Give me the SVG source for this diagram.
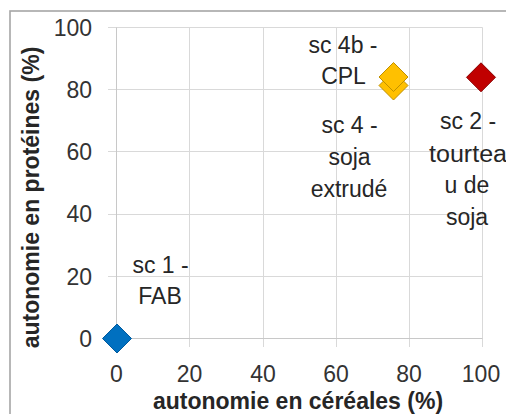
<svg xmlns="http://www.w3.org/2000/svg" width="506" height="414" viewBox="0 0 506 414">
  <style>
    .grid { stroke: #d9d9d9; stroke-width: 1; fill: none; }
    .axis { stroke: #c8c8c8; stroke-width: 1; fill: none; }
    .tick { font-family: "Liberation Sans", Arial, sans-serif; font-size: 23px; fill: #333333; }
    .title { font-family: "Liberation Sans", Arial, sans-serif; font-size: 23px; font-weight: bold; fill: #262626; text-anchor: middle; }
    .lbl { font-family: "Liberation Sans", Arial, sans-serif; font-size: 23px; fill: #262626; text-anchor: middle; }
  </style>
  <defs>
    <path id="dia" d="M0,-14.5 L14.5,0 L0,14.5 L-14.5,0 Z"/>
  </defs>
  <rect x="0" y="0" width="506" height="414" fill="#ffffff"/>
  <rect x="10" y="11" width="600" height="500" fill="none" stroke="#a6a6a6" stroke-width="1.6"/>

  <g id="grid">
    <path class="grid" d="M108,27.5H482.5 M108,89.5H482.5 M108,151.5H482.5 M108,214.5H482.5 M108,276.5H482.5"/>
    <path class="grid" d="M189.5,27.5V347 M263.5,27.5V347 M336.5,27.5V347 M409.5,27.5V347 M482.5,27.5V347"/>
  </g>
  <g id="axes">
    <path class="axis" d="M116.5,27.5V347 M108,338.5H482.5"/>
    <g class="tick" text-anchor="end">
      <text x="92" y="35.5">100</text>
      <text x="92" y="97.5">80</text>
      <text x="92" y="159.5">60</text>
      <text x="92" y="222">40</text>
      <text x="92" y="284.5">20</text>
      <text x="92" y="347">0</text>
    </g>
    <g class="tick" text-anchor="middle">
      <text x="116.5" y="381.5">0</text>
      <text x="189.5" y="381.5">20</text>
      <text x="263" y="381.5">40</text>
      <text x="336" y="381.5">60</text>
      <text x="409" y="381.5">80</text>
      <text x="481" y="381.5">100</text>
    </g>
    <text class="title" x="298" y="409">autonomie en céréales (%)</text>
    <text class="title" transform="translate(39,197.5) rotate(-90)">autonomie en protéines (%)</text>
  </g>

  <g id="connectors"></g>

  <g id="sc1">
    <use href="#dia" x="117" y="338.5" fill="#0070c0" stroke="#005a9e" stroke-width="1"/>
    <text class="lbl" x="160.5" y="273.3">sc 1 -</text>
    <text class="lbl" x="160" y="304">FAB</text>
  </g>
  <g id="sc4">
    <use href="#dia" x="393.5" y="85.5" fill="#ffc000" stroke="#bf9000" stroke-width="1"/>
    <text class="lbl" x="349.5" y="133.3">sc 4 -</text>
    <text class="lbl" x="349.5" y="165">soja</text>
    <text class="lbl" x="349" y="197.3">extrudé</text>
  </g>
  <g id="sc4b">
    <use href="#dia" x="393.5" y="77" fill="#ffc000" stroke="#bf9000" stroke-width="1"/>
    <text class="lbl" x="343" y="53">sc 4b -</text>
    <text class="lbl" x="343.5" y="83.5">CPL</text>
  </g>
  <g id="sc2">
    <use href="#dia" x="481" y="77.3" fill="#c00000" stroke="#8b0000" stroke-width="1"/>
    <text class="lbl" x="468" y="129.3">sc 2 -</text>
    <text class="lbl" x="468" y="161.7" textLength="78" lengthAdjust="spacingAndGlyphs">tourtea</text>
    <text class="lbl" x="467" y="193.3">u de</text>
    <text class="lbl" x="467" y="225">soja</text>
  </g>
</svg>
